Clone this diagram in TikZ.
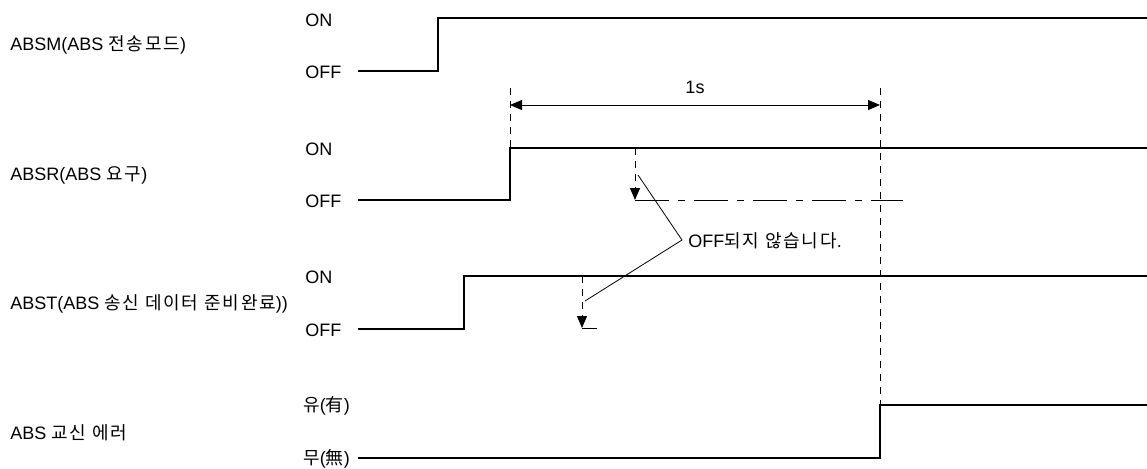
\documentclass[tikz,border=0pt]{standalone}
\usepackage{fontspec}
\setmainfont{Liberation Sans}
\newfontfamily\kr{Noto Sans CJK KR}[Scale=1.0, LetterSpace=10]
\usetikzlibrary{arrows.meta}

\tikzset{
  sig/.style={line width=0.75pt},
  guide/.style={line width=0.5pt, dash pattern=on 3.5pt off 3pt},
  dashdot/.style={line width=0.5pt, dash pattern=on 17pt off 4.5pt on 3.5pt off 4.5pt},
  leader/.style={line width=0.4pt},
  lvl/.style={anchor=west, inner sep=0pt},
  signame/.style={anchor=west, inner sep=0pt}
}

\begin{document}
\begin{tikzpicture}[x=0.5pt, y=-0.5pt, >={Triangle[length=6pt, width=5pt]},
    every node/.style={font=\fontsize{9}{11}\selectfont}]
  \useasboundingbox (0,0) rectangle (1147,468);

  % ================= ABSM =================
  \node[signame] (absm) at (10,45) {ABSM(ABS {\kr 전송모드})};
  \node[lvl] (absmon) at (305,20) {ON};
  \node[lvl] (absmoff) at (305,72) {OFF};
  \draw[sig] (358,71) -- (438,71) -- (438,18) -- (1147,18);

  % ================= ABSR =================
  \node[signame] (absr) at (10,175) {ABSR(ABS {\kr 요구})};
  \node[lvl] (absron) at (305,149) {ON};
  \node[lvl] (absroff) at (305,201) {OFF};
  \draw[sig] (358,200) -- (510,200) -- (510,148) -- (1147,148);

  % ================= ABST =================
  \node[signame] (abst) at (10,304) {ABST(ABS {\kr 송신 데이터 준비완료}))};
  \node[lvl] (abston) at (305,277) {ON};
  \node[lvl] (abstoff) at (305,330) {OFF};
  \draw[sig] (358,329) -- (464,329) -- (464,276) -- (1147,276);

  % ================= ABS 교신 에러 =================
  \node[signame] (err) at (10,433) {ABS {\kr 교신 에러}};
  \node[lvl] (erron) at (303,406) {{\kr 유}({\kr 有})};
  \node[lvl] (erroff) at (303,459) {{\kr 무}({\kr 無})};
  \draw[sig] (358,458) -- (880,458) -- (880,405) -- (1147,405);

  % 1s 간격
  \coordinate (ta) at (510,105);
  \coordinate (tb) at (880,105);
  \draw[guide] (510,88) -- (510,148);
  \draw[guide] (880,88) -- (880,405);
  \draw[<->, leader] (ta) -- (tb) node[midway, above=2pt] (onesec) {1s};

  % ABSR는 OFF되지 않음
  \coordinate (rtop) at (635,148);
  \coordinate (rbot) at (635,200);
  \draw[guide, ->] (rtop) -- (rbot);
  \draw[dashdot] (rbot) -- (903,200);

  % ABST는 OFF되지 않음
  \coordinate (stop) at (582,276);
  \coordinate (sbot) at (582,328);
  \draw[guide, ->] (stop) -- (sbot);
  \draw[leader] (sbot) -- (597,328);

  % 설명
  \node[lvl] (note) at (688,241) {OFF{\kr 되지 않습니다}.};
  \coordinate (tip) at (682,240);
  \draw[leader] (638,175) -- (tip) -- (585,301);
\end{tikzpicture}
\end{document}
